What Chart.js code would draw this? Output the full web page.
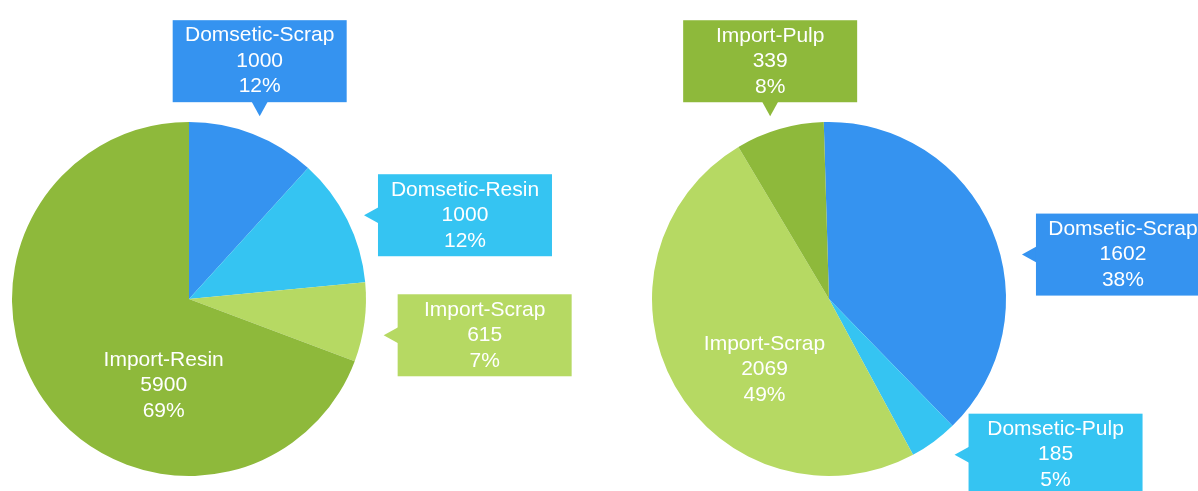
<!DOCTYPE html>
<html>
<head>
<meta charset="utf-8">
<script src="https://cdn.jsdelivr.net/npm/chart.js@4.4.1/dist/chart.umd.min.js"></script>
<style>
  html, body { margin: 0; padding: 0; background: #ffffff; }
  body { width: 1198px; height: 491px; position: relative; overflow: hidden; }
  .wrap { position: absolute; top: 0; }
  canvas { display: block; }
</style>
</head>
<body>
<div class="wrap" style="left:0px;"><canvas id="c1" width="600" height="491"></canvas></div>
<div class="wrap" style="left:600px;"><canvas id="c2" width="598" height="491"></canvas></div>
<script>
// ---- data ----
const leftLabels = ['Domsetic-Scrap', 'Domsetic-Resin', 'Import-Scrap', 'Import-Resin'];
const leftValues = [1000, 1000, 615, 5900];
const rightLabels = ['Domsetic-Scrap', 'Domsetic-Pulp', 'Import-Scrap', 'Import-Pulp'];
const rightValues = [1602, 185, 2069, 339];

const BLUE = '#3593F0', CYAN = '#35C4F2', GREEN = '#8EB93B', LIGHT = '#B6D963';
const leftColors = [BLUE, CYAN, LIGHT, GREEN];
const rightColors = [BLUE, CYAN, LIGHT, GREEN];

// largest-remainder percentages (sum to 100)
function percents(vals) {
  const total = vals.reduce((a, b) => a + b, 0);
  const raw = vals.map(v => v / total * 100);
  const fl = raw.map(Math.floor);
  let rest = 100 - fl.reduce((a, b) => a + b, 0);
  const order = raw.map((r, i) => [r - Math.floor(r), i]).sort((a, b) => b[0] - a[0]);
  for (let k = 0; k < rest; k++) fl[order[k][1]]++;
  return fl;
}

const FONT = '21px "Liberation Sans", Arial, sans-serif';
const LINE = 25.5;
const BOX_W = 174, BOX_H = 82, AR_L = 14, AR_HALF = 8;

const calloutPlugin = {
  id: 'callouts',
  afterDatasetsDraw(chart, args, opts) {
    const ctx = chart.ctx;
    const meta = chart.getDatasetMeta(0);
    const ds = chart.data.datasets[0];
    const pcts = percents(ds.data);
    ctx.save();
    ctx.font = FONT;
    ctx.textAlign = 'center';
    ctx.textBaseline = 'middle';
    meta.data.forEach((arc, i) => {
      const p = arc.getProps(['x', 'y', 'startAngle', 'endAngle', 'outerRadius'], true);
      const mid = (p.startAngle + p.endAngle) / 2;
      const lines = [chart.data.labels[i], String(ds.data[i]), pcts[i] + '%'];
      if (pcts[i] >= 40) {
        const a = mid + (opts.insideShift || 0) * Math.PI / 180;
        const rr = p.outerRadius * (opts.insideFrac || 0.5);
        const cx = p.x + Math.cos(a) * rr, cy = p.y + Math.sin(a) * rr;
        ctx.fillStyle = '#ffffff';
        lines.forEach((t, k) => ctx.fillText(t, cx, cy + (k - 1) * LINE));
        return;
      }
      const a = mid + ((opts.shift && opts.shift[i]) || 0) * Math.PI / 180;
      const R = p.outerRadius + ((opts.gap && opts.gap[i]) || 20);
      const tx = p.x + Math.cos(a) * R, ty = p.y + Math.sin(a) * R;
      const degFromTop = ((a * 180 / Math.PI + 90) % 360 + 360) % 360;
      let bx, by;
      ctx.fillStyle = ds.backgroundColor[i];
      ctx.beginPath();
      if (degFromTop < 35 || degFromTop > 325) {
        // box above, arrow down
        bx = tx - BOX_W / 2; by = ty - AR_L - BOX_H;
        ctx.moveTo(tx, ty); ctx.lineTo(tx - AR_HALF, ty - AR_L - 0.5); ctx.lineTo(tx + AR_HALF, ty - AR_L - 0.5);
      } else if (degFromTop < 180) {
        // box right, arrow left
        bx = tx + AR_L; by = ty - BOX_H / 2;
        ctx.moveTo(tx, ty); ctx.lineTo(tx + AR_L + 0.5, ty - AR_HALF); ctx.lineTo(tx + AR_L + 0.5, ty + AR_HALF);
      } else {
        bx = tx - AR_L - BOX_W; by = ty - BOX_H / 2;
        ctx.moveTo(tx, ty); ctx.lineTo(tx - AR_L - 0.5, ty - AR_HALF); ctx.lineTo(tx - AR_L - 0.5, ty + AR_HALF);
      }
      ctx.closePath();
      ctx.fill();
      ctx.fillRect(bx, by, BOX_W, BOX_H);
      ctx.fillStyle = '#ffffff';
      const cx = bx + BOX_W / 2, cy = by + BOX_H / 2;
      lines.forEach((t, k) => ctx.fillText(t, cx, cy + (k - 1) * LINE));
    });
    ctx.restore();
  }
};

function makePie(id, labels, values, colors, rotation, padding, calloutOpts) {
  return new Chart(document.getElementById(id), {
    type: 'pie',
    data: {
      labels: labels,
      datasets: [{ data: values, backgroundColor: colors, borderWidth: 0, hoverOffset: 0 }]
    },
    options: {
      responsive: false,
      animation: false,
      devicePixelRatio: 1,
      rotation: rotation,
      layout: { padding: padding },
      plugins: {
        legend: { display: false },
        tooltip: { enabled: false },
        callouts: calloutOpts
      }
    },
    plugins: [calloutPlugin]
  });
}

makePie('c1', leftLabels, leftValues, leftColors, 0,
  { left: 12, right: 234, top: 122, bottom: 15 },
  { shift: [0, 1, 3, 0], gap: [19, 17, 21, 0], insideShift: -39, insideFrac: 0.51 });

makePie('c2', rightLabels, rightValues, rightColors, -1.7,
  { left: 52, right: 192, top: 122, bottom: 15 },
  { shift: [10, -2.6, 0, -1.6], gap: [21, 23, 0, 15], insideShift: -18, insideFrac: 0.54 });
</script>
</body>
</html>
